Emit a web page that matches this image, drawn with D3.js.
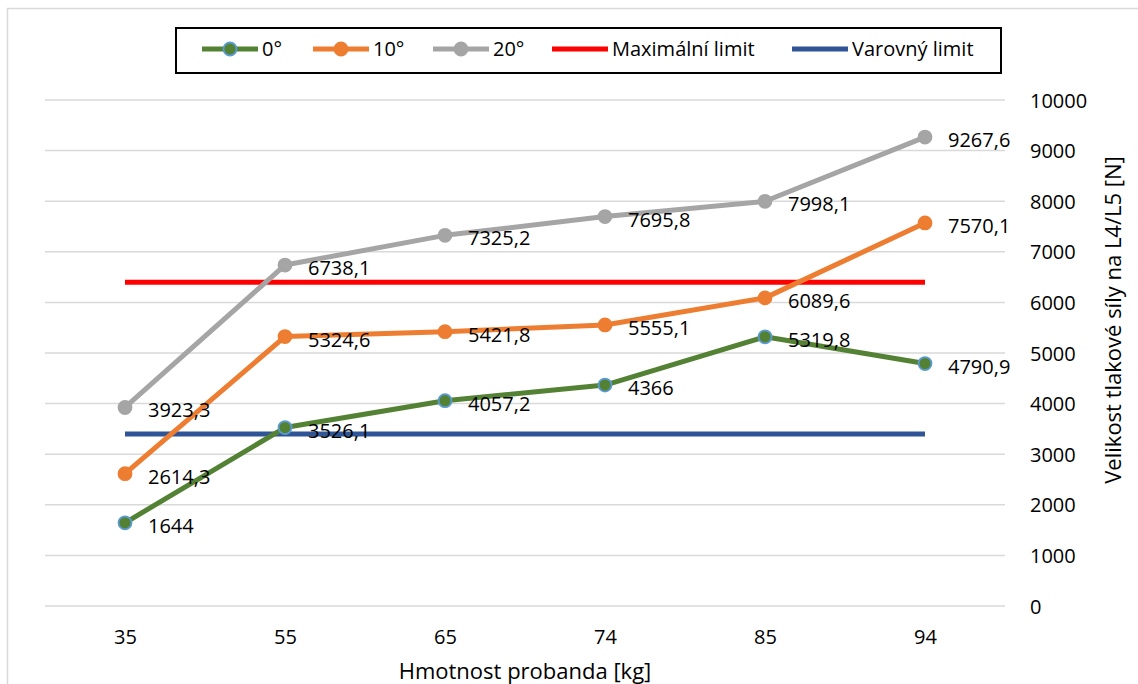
<!DOCTYPE html>
<meta charset="utf-8">
<title>Velikost tlakové síly na L4/L5</title>
<script src="https://d3js.org/d3.v7.min.js"></script>
<style>
body { margin: 0; background: #fff; }
text { font-family: "Open Sans", sans-serif; fill: #000; }
</style>
<body>
<div id="my_dataviz"></div>
<script>
// data
var categories = ["35", "55", "65", "74", "85", "94"];
var series0 = [1644, 3526.1, 4057.2, 4366, 5319.8, 4790.9];
var series10 = [2614.3, 5324.6, 5421.8, 5555.1, 6089.6, 7570.1];
var series20 = [3923.3, 6738.1, 7325.2, 7695.8, 7998.1, 9267.6];
var maxLimit = 6400;
var warnLimit = 3400;
var yTicks = [0, 1000, 2000, 3000, 4000, 5000, 6000, 7000, 8000, 9000, 10000];

var W = 1138, H = 684;
var plot = {left: 45, right: 1005, top: 100, bottom: 606};

var svg = d3.select("#my_dataviz")
  .append("svg")
    .attr("width", W)
    .attr("height", H);

// outer chart border
svg.append("rect")
  .attr("x", 7.5).attr("y", 8.5)
  .attr("width", W).attr("height", H)
  .attr("fill", "none")
  .attr("stroke", "#d9d9d9")
  .attr("stroke-width", 1.5);

var x = d3.scalePoint()
  .domain(categories)
  .range([plot.left, plot.right])
  .padding(0.5);

var y = d3.scaleLinear()
  .domain([0, 10000])
  .range([plot.bottom, plot.top]);

// gridlines
svg.append("g")
  .selectAll("line")
  .data(yTicks)
  .enter()
  .append("line")
    .attr("x1", plot.left)
    .attr("x2", plot.right)
    .attr("y1", function(d) { return y(d); })
    .attr("y2", function(d) { return y(d); })
    .attr("stroke", "#d9d9d9")
    .attr("stroke-width", 1.5);

// right Y axis labels
var yAxis = svg.append("g")
  .attr("transform", "translate(" + (plot.right + 25) + ",0)")
  .call(d3.axisRight(y).tickValues(yTicks).tickSize(0).tickPadding(0).tickFormat(d3.format("d")));
yAxis.select(".domain").remove();
yAxis.selectAll("text")
  .style("font-size", "20px")
  .attr("text-anchor", "start")
  .attr("dy", "0.35em");

// X axis labels
var xAxis = svg.append("g")
  .attr("transform", "translate(0," + plot.bottom + ")")
  .call(d3.axisBottom(x).tickSize(0).tickPadding(24));
xAxis.select(".domain").remove();
xAxis.selectAll("text")
  .style("font-size", "20px");

// axis titles
svg.append("text")
  .attr("x", (plot.left + plot.right) / 2)
  .attr("y", 671)
  .attr("text-anchor", "middle")
  .attr("dy", "0.35em")
  .style("font-size", "22px")
  .text("Hmotnost probanda [kg]");

svg.append("text")
  .attr("transform", "translate(1113,320) rotate(-90)")
  .attr("text-anchor", "middle")
  .attr("dy", "0.35em")
  .style("font-size", "22px")
  .text("Velikost tlakové síly na L4/L5 [N]");

// limit lines
var first = x(categories[0]), last = x(categories[categories.length - 1]);
svg.append("line")
  .attr("x1", first).attr("x2", last)
  .attr("y1", y(maxLimit)).attr("y2", y(maxLimit))
  .attr("stroke", "#ff0000")
  .attr("stroke-width", 5);
svg.append("line")
  .attr("x1", first).attr("x2", last)
  .attr("y1", y(warnLimit)).attr("y2", y(warnLimit))
  .attr("stroke", "#2f5597")
  .attr("stroke-width", 5);

var seriesList = [
  {name: "20°", values: series20, color: "#a5a5a5", markerStroke: "#a5a5a5"},
  {name: "10°", values: series10, color: "#ed7d31", markerStroke: "#ed7d31"},
  {name: "0°", values: series0, color: "#548235", markerStroke: "#5b9bd5"}
];

var line = d3.line()
  .x(function(d, i) { return x(categories[i]); })
  .y(function(d) { return y(d); });

var fmt = function(v) { return String(v).replace(".", ","); };

seriesList.forEach(function(s) {
  svg.append("path")
    .datum(s.values)
    .attr("d", line)
    .attr("fill", "none")
    .attr("stroke", s.color)
    .attr("stroke-width", 5)
    .attr("stroke-linejoin", "round");

  svg.append("g")
    .selectAll("circle")
    .data(s.values)
    .enter()
    .append("circle")
      .attr("cx", function(d, i) { return x(categories[i]); })
      .attr("cy", function(d) { return y(d); })
      .attr("r", 6.5)
      .attr("fill", s.color)
      .attr("stroke", s.markerStroke)
      .attr("stroke-width", 1.8);
});

// data labels drawn last so they sit on top
seriesList.forEach(function(s) {
  svg.append("g")
    .selectAll("text")
    .data(s.values)
    .enter()
    .append("text")
      .attr("x", function(d, i) { return x(categories[i]) + 23; })
      .attr("y", function(d) { return y(d) + 3; })
      .attr("dy", "0.35em")
      .style("font-size", "20px")
      .text(function(d) { return fmt(d); });
});

// legend
var legend = svg.append("g");
legend.append("rect")
  .attr("x", 176).attr("y", 28)
  .attr("width", 825).attr("height", 45)
  .attr("fill", "#fff")
  .attr("stroke", "#000")
  .attr("stroke-width", 2);

var legendItems = [
  {name: "0°", color: "#548235", markerStroke: "#5b9bd5", marker: true, x0: 202},
  {name: "10°", color: "#ed7d31", markerStroke: "#ed7d31", marker: true, x0: 313},
  {name: "20°", color: "#a5a5a5", markerStroke: "#a5a5a5", marker: true, x0: 433},
  {name: "Maximální limit", color: "#ff0000", marker: false, x0: 552},
  {name: "Varovný limit", color: "#2f5597", marker: false, x0: 792}
];

var ly = 49;
legendItems.forEach(function(it) {
  legend.append("line")
    .attr("x1", it.x0).attr("x2", it.x0 + 56)
    .attr("y1", ly).attr("y2", ly)
    .attr("stroke", it.color)
    .attr("stroke-width", 5);
  if (it.marker) {
    legend.append("circle")
      .attr("cx", it.x0 + 28).attr("cy", ly)
      .attr("r", 6.5)
      .attr("fill", it.color)
      .attr("stroke", it.markerStroke)
      .attr("stroke-width", 1.8);
  }
  legend.append("text")
    .attr("x", it.x0 + 60)
    .attr("y", ly)
    .attr("dy", "0.35em")
    .style("font-size", "20px")
    .text(it.name);
});
</script>
</body>
